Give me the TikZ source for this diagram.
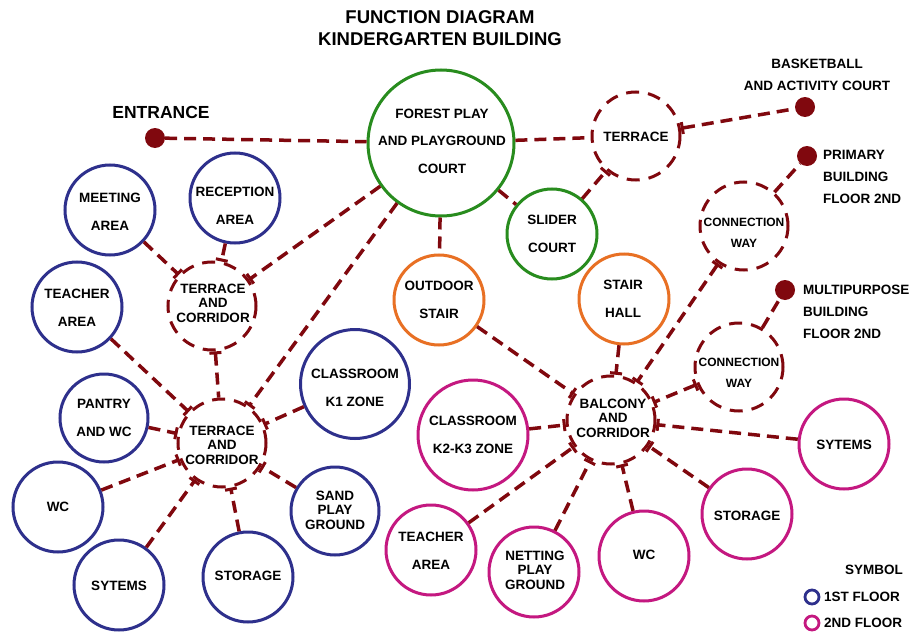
\documentclass[tikz,border=0pt]{standalone}
\usepackage{fontspec}
\setmainfont{Liberation Sans}
\usetikzlibrary{arrows.meta}
\definecolor{lnk}{RGB}{128,8,14}
\definecolor{bluC}{RGB}{46,48,140}
\definecolor{magC}{RGB}{196,24,128}
\definecolor{grnC}{RGB}{40,140,30}
\definecolor{orgC}{RGB}{232,112,36}
\begin{document}
\begin{tikzpicture}[x=1pt,y=-1pt,
  room/.style={circle,draw,line width=3pt,inner sep=0pt},
  fa/.style={room,draw=bluC,minimum size=#1pt},
  fb/.style={room,draw=magC,minimum size=#1pt},
  fg/.style={room,draw=grnC,minimum size=#1pt},
  fo/.style={room,draw=orgC,minimum size=#1pt},
  fd/.style={room,draw=lnk,dash pattern=on 13pt off 9pt,minimum size=#1pt},
  pin/.style={circle,fill=lnk,inner sep=0pt,minimum size=20pt},
  txt/.style={font=\bfseries\fontsize{13.5}{27.5}\selectfont,align=center,inner sep=0pt},
  tight/.style={font=\bfseries\fontsize{13.5}{14.5}\selectfont,align=center,inner sep=0pt},
  ctxt/.style={font=\bfseries\fontsize{12}{20.5}\selectfont,align=center,inner sep=0pt},
  lab/.style={font=\bfseries\fontsize{13.5}{22}\selectfont,inner sep=0pt},
  link/.style={draw=lnk,line width=3.5pt,dash pattern=on 12pt off 7pt},
  tb/.style={link,-{Bar[width=12pt,line width=3pt]}},
  bt/.style={link,{Bar[width=12pt,line width=3pt]}-},
  bb/.style={link,{Bar[width=12pt,line width=3pt]}-{Bar[width=12pt,line width=3pt]}}
]
\useasboundingbox[fill=white] (0,0) rectangle (916,634);

% title
\node[font=\bfseries\fontsize{18.5}{22}\selectfont,align=center,inner sep=0pt] (title) at (440,28) {FUNCTION DIAGRAM\\KINDERGARTEN BUILDING};

% top row
\node[fg=146] (forest) at (441,143) {};
\node[txt] (forestT) at (442,141) {FOREST PLAY\\AND PLAYGROUND\\COURT};
\node[pin] (ent) at (155,138) {};
\node[font=\bfseries\fontsize{17.5}{20}\selectfont,inner sep=0pt] (entT) at (161,112) {ENTRANCE};
\node[fd=88] (terr) at (636,136) {};
\node[txt] (terrT) at (636,137) {TERRACE};
\node[pin] (bask) at (805,107) {};
\node[lab,align=center] (baskT) at (817,75) {BASKETBALL\\AND ACTIVITY COURT};
\node[pin] (prim) at (807,156) {};
\node[lab,align=left,anchor=west] (primT) at (823,177) {PRIMARY\\BUILDING\\FLOOR 2ND};
\node[pin] (multi) at (785,290) {};
\node[lab,align=left,anchor=west] (multiT) at (803,312) {MULTIPURPOSE\\BUILDING\\FLOOR 2ND};

% green / orange / connection
\node[fg=90] (slider) at (552,234) {};
\node[txt] (sliderT) at (552,234) {SLIDER\\COURT};
\node[fo=90] (ostair) at (439,300) {};
\node[txt] (ostairT) at (439,300) {OUTDOOR\\STAIR};
\node[fo=90] (shall) at (624,299) {};
\node[txt] (shallT) at (623,299) {STAIR\\HALL};
\node[fd=88] (cw1) at (744,226) {};
\node[ctxt] (cw1T) at (744,233) {CONNECTION\\WAY};
\node[fd=88] (cw2) at (739,367) {};
\node[ctxt] (cw2T) at (739,373) {CONNECTION\\WAY};

% first floor (left)
\node[fa=90] (meet) at (110,210) {};
\node[txt] (meetT) at (110,212) {MEETING\\AREA};
\node[fa=90] (recep) at (235,198) {};
\node[txt] (recepT) at (235,206) {RECEPTION\\AREA};
\node[fa=90] (teachL) at (77,307) {};
\node[txt] (teachLT) at (77,308) {TEACHER\\AREA};
\node[fd=88] (tcu) at (212,306) {};
\node[tight] (tcuT) at (213,303) {TERRACE\\AND\\CORRIDOR};
\node[fa=88] (pantry) at (104,418) {};
\node[txt] (pantryT) at (104,418) {PANTRY\\AND WC};
\node[fd=88] (tcl) at (222,443) {};
\node[tight] (tclT) at (222,445) {TERRACE\\AND\\CORRIDOR};
\node[fa=109] (k1) at (355,384) {};
\node[txt] (k1T) at (355,388) {CLASSROOM\\K1 ZONE};
\node[fa=90] (wcL) at (58,507) {};
\node[txt] (wcLT) at (58,507) {WC};
\node[fa=90] (sysL) at (119,585) {};
\node[txt] (sysLT) at (119,586) {SYTEMS};
\node[fa=90] (stoL) at (248,577) {};
\node[txt] (stoLT) at (248,576) {STORAGE};
\node[fa=88] (sand) at (335,511) {};
\node[tight] (sandT) at (335,510) {SAND\\PLAY\\GROUND};

% second floor (right)
\node[fd=88] (balc) at (611,420) {};
\node[tight] (balcT) at (613,418) {BALCONY\\AND\\CORRIDOR};
\node[fb=110] (k23) at (473,435) {};
\node[txt] (k23T) at (473,435) {CLASSROOM\\K2-K3 ZONE};
\node[fb=90] (teachR) at (431,550) {};
\node[txt] (teachRT) at (431,551) {TEACHER\\AREA};
\node[fb=90] (net) at (534,572) {};
\node[tight] (netT) at (535,570) {NETTING\\PLAY\\GROUND};
\node[fb=90] (wcR) at (644,556) {};
\node[txt] (wcRT) at (644,555) {WC};
\node[fb=90] (stoR) at (747,514) {};
\node[txt] (stoRT) at (747,516) {STORAGE};
\node[fb=90] (sysR) at (844,444) {};
\node[txt] (sysRT) at (844,445) {SYTEMS};

% legend
\node[lab,anchor=east] (symT) at (903,570) {SYMBOL};
\node[circle,draw=bluC,line width=2.8pt,minimum size=14pt,inner sep=0pt] (legA) at (812,597) {};
\node[lab,anchor=west] (legAT) at (824,597) {1ST FLOOR};
\node[circle,draw=magC,line width=2.8pt,minimum size=14pt,inner sep=0pt] (legB) at (812,623) {};
\node[lab,anchor=west] (legBT) at (824,623) {2ND FLOOR};

% connectors
\draw[link] (ent) -- (forest);
\draw[link] (forest) -- (terr);
\draw[bt] (terr) -- (bask);
\draw[tb] (slider) -- (terr);
\draw[link] (forest) -- (slider);
\draw[link] (forest) -- (ostair);
\draw[tb] (forest) -- (tcu);
\draw[tb] (forest) -- (tcl);
\draw[tb] (meet) -- (tcu);
\draw[tb] (recep) -- (tcu);
\draw[bt] (tcu) -- (tcl);
\draw[tb] (teachL) -- (tcl);
\draw[tb] (pantry) -- (tcl);
\draw[tb] (wcL) -- (tcl);
\draw[tb] (sysL) -- (tcl);
\draw[tb] (stoL) -- (tcl);
\draw[tb] (sand) -- (tcl);
\draw[tb] (k1) -- (tcl);
\draw[tb] (ostair) -- (balc);
\draw[tb] (shall) -- (balc);
\draw[bb] (cw1) -- (balc);
\draw[link] (cw1) -- (prim);
\draw[bb] (cw2) -- (balc);
\draw[link] (cw2) -- (multi);
\draw[tb] (k23) -- (balc);
\draw[tb] (teachR) -- (balc);
\draw[tb] (net) -- (balc);
\draw[tb] (wcR) -- (balc);
\draw[tb] (stoR) -- (balc);
\draw[tb] (sysR) -- (balc);
\end{tikzpicture}
\end{document}
